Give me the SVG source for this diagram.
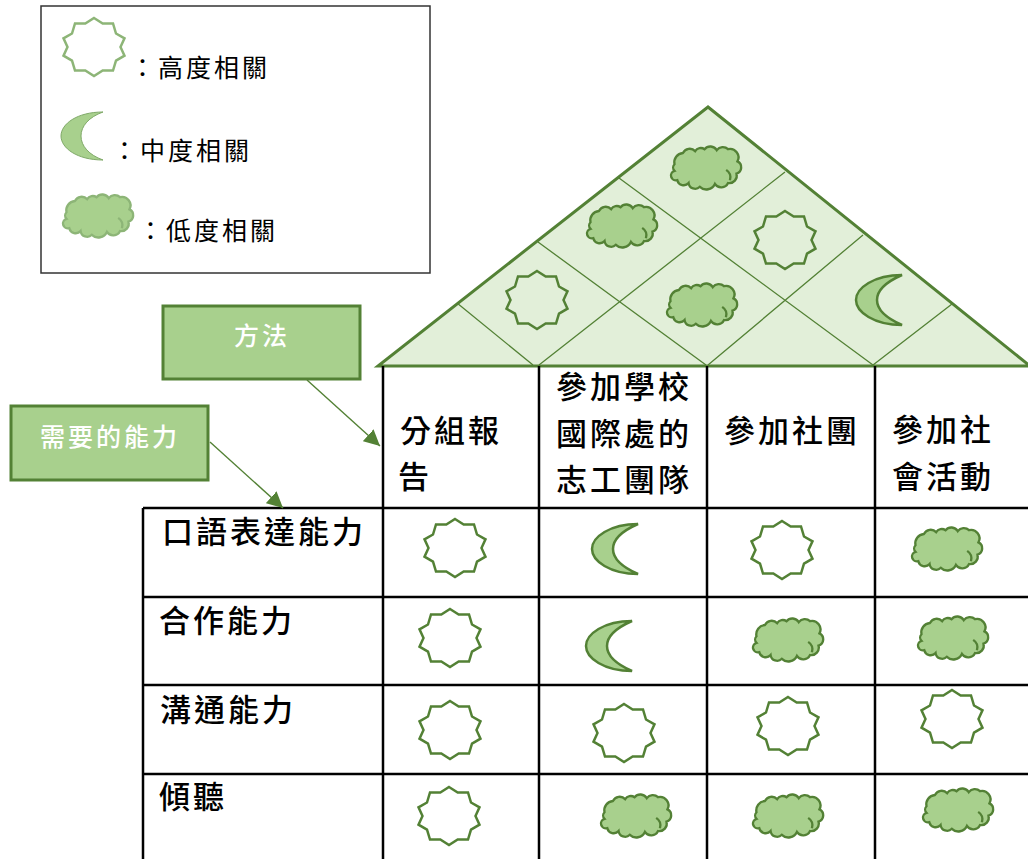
<svg xmlns="http://www.w3.org/2000/svg" width="1028" height="859" viewBox="0 0 1028 859">
<style>
text{font-family:"Noto Sans CJK TC","Noto Sans CJK SC",sans-serif;fill:#000}
.t{font-size:31px;letter-spacing:3px;font-weight:500}
.l{font-size:25px;letter-spacing:3px}
.w{font-size:25px;letter-spacing:3px;fill:#fff;font-weight:500}
.box{fill:#a8d08d;stroke:#538135;stroke-width:3}
.grid{stroke:#000;stroke-width:2.5;fill:none}
.diag{stroke:#538135;stroke-width:1.3;fill:none}
.sh{stroke:#538135;stroke-width:2.5;stroke-linejoin:miter}
.star{fill:none}
.fill{fill:#a8d08d}
.soft{stroke:#8db577;stroke-width:2.5}
.conn{stroke:#538135;stroke-width:1.4;fill:none;marker-end:url(#arrow)}
</style>
<defs>
<marker id="arrow" markerUnits="userSpaceOnUse" markerWidth="18" markerHeight="16" refX="16" refY="8" orient="auto"><path d="M0,0L16,8L0,16Z" fill="#538135"/></marker>
<path id="star" d="M0,-29L8.7,-23.5L19,-23.5L22,-13.5L30.5,-8.7L26.5,0L30.5,8.7L22,13.7L19,23.5L8.7,23.5L0,29L-8.7,23.5L-19,23.5L-22,13.7L-30.5,8.7L-26.5,0L-30.5,-8.7L-22,-13.5L-19,-23.5L-8.7,-23.5Z"/>
<path id="moon" d="M46,-25C18,-25 0,-12 0,0C0,12 18,25 46,25C30,18 21,10 21,0C21,-10 30,-18 46,-25Z"/>
<path id="moon-legend" d="M42,-24C16,-24 0,-12 0,0C0,12 16,24 42,24C28,19 20,10 20,0C20,-10 28,-19 42,-24Z"/>
<g id="cloud" transform="translate(-0.5,0) scale(.94)">
<path d="M-33,-4A10,10 0 0 1 -24,-16A8,8 0 0 1 -11,-18A7,7 0 0 1 -1,-20A8,8 0 0 1 12,-19A8,8 0 0 1 24,-20A9,9 0 0 1 34,-7A7,7 0 0 1 33,6A8,8 0 0 1 24,16A8,8 0 0 1 10,17A10,10 0 0 1 -6,20A7,7 0 0 1 -18,16A7,7 0 0 1 -30,13A5,5 0 0 1 -33,3A5,5 0 0 1 -33,-4Z"/>
<path d="M22,2Q28,6 26,13" fill="none"/>
</g>
</defs>

<g id="legend">
<rect x="41" y="6" width="389" height="267" fill="#fff" stroke="#333" stroke-width="1.5"/>
<use href="#star" x="94" y="47" class="star soft"/>
<use href="#moon-legend" x="61" y="136" class="fill" stroke="#7fa968" stroke-width="1"/>
<use href="#cloud" x="98" y="216" class="fill soft" stroke-width="2"/>
<text class="l" x="130" y="77">：高度相關</text>
<text class="l" x="112" y="160">：中度相關</text>
<text class="l" x="138" y="240">：低度相關</text>
</g>

<g id="roof">
<path d="M708,107L378,366H1030Z" fill="#e2efd9" stroke="#538135" stroke-width="3"/>
<path class="diag" d="M619,178L873,365M538,242L706,365M457,303L533,365M785,172L539,365M863,235L708,365M952,304L873,365"/>
<use href="#cloud" x="706" y="168" class="fill sh"/>
<use href="#cloud" x="622" y="226" class="fill sh"/>
<use href="#star" x="537" y="300" class="star sh"/>
<use href="#cloud" x="702" y="305" class="fill sh"/>
<use href="#star" x="785" y="240" class="star sh"/>
<use href="#moon" x="856" y="300" class="fill sh"/>
</g>

<g id="table">
<path class="grid" d="M383,366V859M539,366V859M707,366V859M875,366V859M143,508V859M143,508H1028M143,597H1028M143,685H1028M143,774H1028"/>
<g id="column-headers">
<text class="t" x="400" y="442">分組報</text>
<text class="t" x="398" y="488">告</text>
<text class="t" x="556" y="398">參加學校</text>
<text class="t" x="556" y="445">國際處的</text>
<text class="t" x="556" y="491">志工團隊</text>
<text class="t" x="724" y="442">參加社團</text>
<text class="t" x="892" y="441">參加社</text>
<text class="t" x="892" y="488">會活動</text>
</g>
<g id="row-headers">
<text class="t" x="162" y="543">口語表達能力</text>
<text class="t" x="159" y="632">合作能力</text>
<text class="t" x="160" y="721">溝通能力</text>
<text class="t" x="159" y="808">傾聽</text>
</g>
<g id="marks">
<use href="#star" x="455" y="548" class="star sh"/>
<use href="#moon" x="592" y="549" class="fill sh"/>
<use href="#star" x="782" y="550" class="star sh"/>
<use href="#cloud" x="947" y="549" class="fill sh"/>
<use href="#star" x="450" y="638" class="star sh"/>
<use href="#moon" x="586" y="646" class="fill sh"/>
<use href="#cloud" x="788" y="640" class="fill sh"/>
<use href="#cloud" x="953" y="638" class="fill sh"/>
<use href="#star" x="450" y="730" class="star sh"/>
<use href="#star" x="624" y="733" class="star sh"/>
<use href="#star" x="788" y="726" class="star sh"/>
<use href="#star" x="952" y="719" class="star sh"/>
<use href="#star" x="449" y="816" class="star sh"/>
<use href="#cloud" x="636" y="816" class="fill sh"/>
<use href="#cloud" x="788" y="816" class="fill sh"/>
<use href="#cloud" x="958" y="810" class="fill sh"/>
</g>
</g>

<g id="node-method">
<rect class="box" x="163" y="306" width="197" height="73"/>
<text class="w" x="234" y="345">方法</text>
</g>
<g id="node-ability">
<rect class="box" x="11" y="406" width="197" height="74"/>
<text class="w" x="40" y="446">需要的能力</text>
</g>
<g id="connectors">
<path class="conn" d="M307,380L380,446"/>
<path class="conn" d="M210,442L283,508"/>
</g>
</svg>
